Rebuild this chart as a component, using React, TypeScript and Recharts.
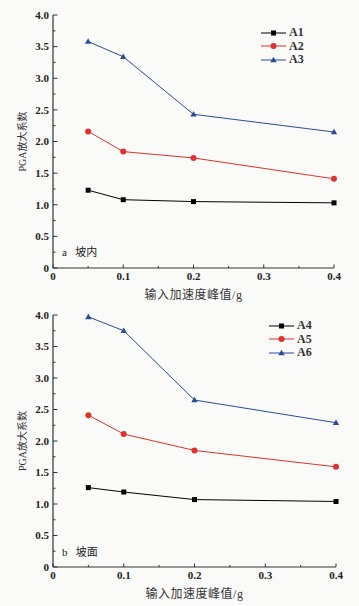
import React from "react";
import { LineChart, Line, XAxis, YAxis } from "recharts";

// input peak acceleration (g)
const pga = [0.05, 0.1, 0.2, 0.4];

// panel a: inside slope
const a1 = [1.23, 1.08, 1.05, 1.03];
const a2 = [2.16, 1.84, 1.74, 1.41];
const a3 = [3.58, 3.34, 2.43, 2.15];

// panel b: slope surface
const a4 = [1.26, 1.19, 1.07, 1.04];
const a5 = [2.41, 2.11, 1.85, 1.59];
const a6 = [3.97, 3.75, 2.65, 2.29];

const xTicks = [0, 0.05, 0.1, 0.15, 0.2, 0.25, 0.3, 0.35, 0.4];
const yTicks = [0, 0.25, 0.5, 0.75, 1, 1.25, 1.5, 1.75, 2, 2.25, 2.5, 2.75, 3, 3.25, 3.5, 3.75, 4];

const FONT = "'Liberation Serif', 'Noto Sans CJK SC', serif";
const AXIS = "#333";
const COLORS = ["#000000", "#e0312f", "#2b4c9b"];

const isMajor = (v: number, step: number) =>
  Math.abs(v / step - Math.round(v / step)) < 1e-6;

const fmtX = (v: number) => (v === 0 ? "0" : v.toFixed(1));
const fmtY = (v: number) => (v === 0 ? "0" : v.toFixed(1));

function XTick(props: any) {
  const { x, y, payload } = props;
  const v = payload.value as number;
  const major = isMajor(v, 0.1);
  return (
    <g>
      <line x1={x} x2={x} y1={y} y2={y - (major ? 3.5 : 2)} stroke={AXIS} strokeWidth={1} />
      {major && (
        <text x={x} y={y + 4} dy="0.71em" textAnchor="middle" fontSize={11} fontWeight="bold" fill="#222" fontFamily={FONT}>
          {fmtX(v)}
        </text>
      )}
    </g>
  );
}

function YTick(props: any) {
  const { x, y, payload } = props;
  const v = payload.value as number;
  const major = isMajor(v, 0.5);
  return (
    <g>
      <line x1={x} x2={x + (major ? 4.5 : 2.5)} y1={y} y2={y} stroke={AXIS} strokeWidth={1} />
      {major && (
        <text x={x - 4} y={y} dy="0.35em" textAnchor="end" fontSize={11} fontWeight="bold" fill="#222" fontFamily={FONT}>
          {fmtY(v)}
        </text>
      )}
    </g>
  );
}

function Marker({ kind, cx, cy, color }: { kind: number; cx: number; cy: number; color: string }) {
  if (kind === 0) return <rect x={cx - 2.5} y={cy - 2.5} width={5} height={5} fill={color} />;
  if (kind === 1) return <circle cx={cx} cy={cy} r={3} fill={color} />;
  return <path d={`M${cx},${cy - 3.3}L${cx + 3.2},${cy + 2.3}L${cx - 3.2},${cy + 2.3}Z`} fill={color} />;
}

function Panel({
  series,
  names,
  tag,
  margin,
  legendPos,
}: {
  series: number[][];
  names: string[];
  tag: string;
  margin: { top: number; right: number; left: number; bottom: number };
  legendPos: { left: number; top: number };
}) {
  const rows = pga.map((x, i) => ({ x, s0: series[0][i], s1: series[1][i], s2: series[2][i] }));
  return (
    <div style={{ position: "relative", width: 359, height: 303 }}>
      <LineChart width={359} height={303} data={rows} margin={margin} style={{ fontFamily: FONT }}>
        <XAxis
          type="number"
          dataKey="x"
          domain={[0, 0.4]}
          ticks={xTicks}
          interval={0}
          tick={<XTick />}
          tickLine={false}
          tickSize={0}
          tickMargin={0}
          height={35}
          axisLine={{ stroke: AXIS, strokeWidth: 1.2 }}
          label={{
            content: (p: any) => {
              const vb = p.viewBox;
              return (
                <text x={vb.x + vb.width / 2} y={vb.y + 31} textAnchor="middle" fontSize={12} fill="#333" fontFamily={FONT} letterSpacing={0.5}>
                  输入加速度峰值/g
                </text>
              );
            },
          }}
        />
        <YAxis
          type="number"
          domain={[0, 4]}
          ticks={yTicks}
          interval={0}
          tick={<YTick />}
          tickLine={false}
          tickSize={0}
          tickMargin={0}
          width={53}
          axisLine={{ stroke: AXIS, strokeWidth: 1.2 }}
          label={{
            content: (p: any) => {
              const vb = p.viewBox;
              const cx = 22;
              const cy = vb.y + vb.height / 2;
              return (
                <text x={cx} y={cy} transform={`rotate(-90 ${cx} ${cy})`} dy="0.35em" textAnchor="middle" fontSize={10} fill="#333" fontFamily={FONT}>
                  PGA放大系数
                </text>
              );
            },
          }}
        />
        {[0, 1, 2].map((i) => (
          <Line
            key={i}
            type="linear"
            dataKey={`s${i}`}
            name={names[i]}
            stroke={COLORS[i]}
            strokeWidth={1}
            isAnimationActive={false}
            dot={(d: any) => <Marker key={`${i}-${d.index}`} kind={i} cx={d.cx} cy={d.cy} color={COLORS[i]} />}
            activeDot={false}
          />
        ))}
      </LineChart>
      <div
        style={{
          position: "absolute",
          left: legendPos.left,
          top: legendPos.top,
          fontFamily: FONT,
        }}
      >
        {names.map((n, i) => (
          <div key={n} style={{ display: "flex", alignItems: "center", height: 13.5 }}>
            <svg width={26} height={10}>
              <line x1={0} x2={25} y1={5} y2={5} stroke={COLORS[i]} strokeWidth={1} />
              <Marker kind={i} cx={12.5} cy={5} color={COLORS[i]} />
            </svg>
            <span style={{ fontSize: 12, fontWeight: "bold", color: "#333", marginLeft: 2 }}>{n}</span>
          </div>
        ))}
      </div>
      <div
        style={{
          position: "absolute",
          left: 62,
          top: margin.top + 228,
          fontFamily: FONT,
          fontSize: 11,
          color: "#222",
          whiteSpace: "nowrap",
        }}
      >
        {tag}
      </div>
    </div>
  );
}

export default function App() {
  return (
    <div style={{ position: "absolute", left: 0, top: 0, width: 359, height: 606, background: "#fafaf8" }}>
      <Panel
        series={[a1, a2, a3]}
        names={["A1", "A2", "A3"]}
        tag={"a\u2002 坡内"}
        margin={{ top: 15, right: 25, left: 0, bottom: 0 }}
        legendPos={{ left: 261, top: 26 }}
      />
      <Panel
        series={[a4, a5, a6]}
        names={["A4", "A5", "A6"]}
        tag={"b\u2002 坡面"}
        margin={{ top: 12, right: 23, left: 0, bottom: 4 }}
        legendPos={{ left: 269, top: 16 }}
      />
    </div>
  );
}
